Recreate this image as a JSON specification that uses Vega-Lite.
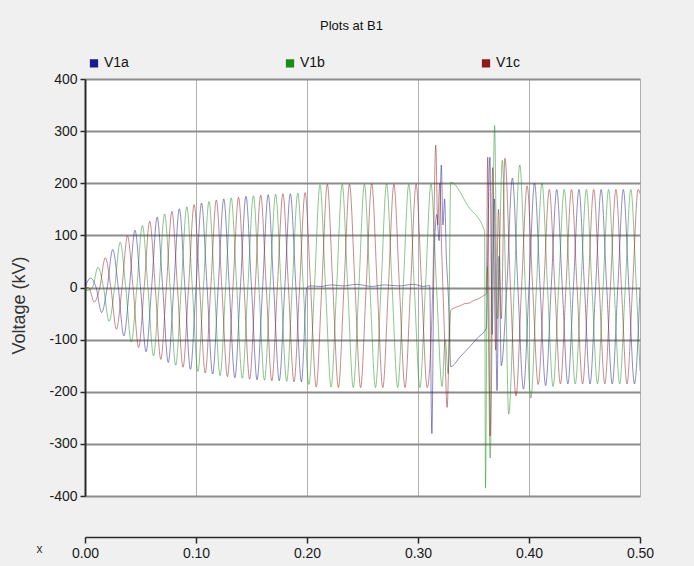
{
  "$schema": "https://vega.github.io/schema/vega-lite/v6.json",
  "width": 555,
  "height": 417,
  "autosize": {"type": "none"},
  "padding": {"left": 85, "top": 79, "right": 54, "bottom": 70},
  "background": "#f0f0f0",
  "title": {
    "text": "Plots at B1",
    "anchor": "middle",
    "frame": "group",
    "dx": -11,
    "offset": 23,
    "font": "Liberation Sans",
    "fontSize": 13,
    "fontWeight": "normal",
    "color": "#111111"
  },
  "config": {
    "view": {"fill": "white", "stroke": null},
    "locale": {"number": {"decimal": ".", "thousands": ",", "grouping": [3], "currency": ["$", ""], "minus": "-"}}
  },
  "datasets": {
    "va": [
      {"t":0,"v":0},{"t":0.005,"v":18},{"t":0.01,"v":0},{"t":0.015,"v":-48},{"t":0.02,"v":0},{"t":0.025,"v":73},{"t":0.03,"v":0},{"t":0.035,"v":-93},{"t":0.04,"v":0},{"t":0.045,"v":110},{"t":0.05,"v":0},{"t":0.055,"v":-123},{"t":0.06,"v":0},{"t":0.065,"v":135},{"t":0.07,"v":0},{"t":0.075,"v":-144},{"t":0.08,"v":0},{"t":0.085,"v":151},{"t":0.09,"v":0},{"t":0.095,"v":-157},{"t":0.1,"v":0},{"t":0.105,"v":162},{"t":0.11,"v":0},{"t":0.115,"v":-166},{"t":0.12,"v":0},{"t":0.125,"v":170},{"t":0.13,"v":0},{"t":0.135,"v":-173},{"t":0.14,"v":0},{"t":0.145,"v":175},{"t":0.15,"v":0},{"t":0.155,"v":-177},{"t":0.16,"v":0},{"t":0.165,"v":178},{"t":0.17,"v":0},{"t":0.175,"v":-179},{"t":0.18,"v":0},{"t":0.185,"v":180},{"t":0.19,"v":0},{"t":0.195,"v":-181},{"t":0.2,"v":0},
      {"t":0.203,"v":3},{"t":0.212,"v":2},{"t":0.222,"v":5},{"t":0.232,"v":3},{"t":0.245,"v":6},{"t":0.258,"v":2},{"t":0.27,"v":5},{"t":0.283,"v":3},{"t":0.296,"v":6},{"t":0.305,"v":2},{"t":0.3105,"v":4},
      {"t":0.3125,"v":-280},{"t":0.3145,"v":60},{"t":0.317,"v":140},{"t":0.319,"v":90},{"t":0.321,"v":235},{"t":0.3225,"v":120},{"t":0.324,"v":170},{"t":0.3255,"v":60},{"t":0.327,"v":0},{"t":0.328,"v":-50},{"t":0.3295,"v":-152},{"t":0.338,"v":-133},{"t":0.346,"v":-115},{"t":0.354,"v":-96},{"t":0.3615,"v":-78},
      {"t":0.3632,"v":120},{"t":0.3648,"v":250},{"t":0.3668,"v":-90},{"t":0.3688,"v":170},{"t":0.3712,"v":-198},{"t":0.373,"v":60},{"t":0.375,"v":-150},{"t":0.38,"v":0},{"t":0.385,"v":210},{"t":0.39,"v":0},{"t":0.395,"v":-195},{"t":0.4,"v":0},{"t":0.405,"v":200},{"t":0.41,"v":0},{"t":0.415,"v":-188},{"t":0.42,"v":0},{"t":0.425,"v":188},{"t":0.43,"v":0},{"t":0.435,"v":-185},{"t":0.44,"v":0},{"t":0.445,"v":188},{"t":0.45,"v":0},{"t":0.455,"v":-185},{"t":0.46,"v":0},{"t":0.465,"v":188},{"t":0.47,"v":0},{"t":0.475,"v":-185},{"t":0.48,"v":0},{"t":0.485,"v":188},{"t":0.49,"v":0},{"t":0.495,"v":-185},{"t":0.5,"v":0}
    ],
    "vb": [
      {"t":0,"v":0},{"t":0.0017,"v":-6},{"t":0.0067,"v":0},{"t":0.0117,"v":39},{"t":0.0167,"v":0},{"t":0.0217,"v":-65},{"t":0.0267,"v":0},{"t":0.0317,"v":87},{"t":0.0367,"v":0},{"t":0.0417,"v":-105},{"t":0.0467,"v":0},{"t":0.0517,"v":119},{"t":0.0567,"v":0},{"t":0.0617,"v":-131},{"t":0.0667,"v":0},{"t":0.0717,"v":141},{"t":0.0767,"v":0},{"t":0.0817,"v":-149},{"t":0.0867,"v":0},{"t":0.0917,"v":155},{"t":0.0967,"v":0},{"t":0.1017,"v":-161},{"t":0.1067,"v":0},{"t":0.1117,"v":165},{"t":0.1167,"v":0},{"t":0.1217,"v":-169},{"t":0.1267,"v":0},{"t":0.1317,"v":172},{"t":0.1367,"v":0},{"t":0.1417,"v":-174},{"t":0.1467,"v":0},{"t":0.1517,"v":176},{"t":0.1567,"v":0},{"t":0.1617,"v":-178},{"t":0.1667,"v":0},{"t":0.1717,"v":179},{"t":0.1767,"v":0},{"t":0.1817,"v":-180},{"t":0.1867,"v":0},{"t":0.1917,"v":181},{"t":0.1967,"v":0},
      {"t":0.2017,"v":-186},{"t":0.2067,"v":0},{"t":0.2117,"v":197},{"t":0.2167,"v":0},{"t":0.2217,"v":-191},{"t":0.2267,"v":0},{"t":0.2317,"v":198},{"t":0.2367,"v":0},{"t":0.2417,"v":-192},{"t":0.2467,"v":0},{"t":0.2517,"v":198},{"t":0.2567,"v":0},{"t":0.2617,"v":-192},{"t":0.2667,"v":0},{"t":0.2717,"v":199},{"t":0.2767,"v":0},{"t":0.2817,"v":-192},{"t":0.2867,"v":0},{"t":0.2917,"v":198},{"t":0.2967,"v":0},{"t":0.3017,"v":-192},{"t":0.3067,"v":0},{"t":0.3117,"v":198},{"t":0.3167,"v":0},{"t":0.3217,"v":-190},{"t":0.3245,"v":-100},{"t":0.3272,"v":-165},{"t":0.3295,"v":202},{"t":0.3455,"v":155},{"t":0.36,"v":108},
      {"t":0.3608,"v":-385},{"t":0.3625,"v":40},{"t":0.365,"v":-327},{"t":0.369,"v":311},{"t":0.3715,"v":-60},{"t":0.376,"v":244},{"t":0.379,"v":0},{"t":0.3817,"v":-243},{"t":0.3867,"v":0},{"t":0.3917,"v":235},{"t":0.3967,"v":0},{"t":0.4017,"v":-212},{"t":0.4067,"v":0},{"t":0.4117,"v":200},{"t":0.4167,"v":0},{"t":0.4217,"v":-190},{"t":0.4267,"v":0},{"t":0.4317,"v":188},{"t":0.4367,"v":0},{"t":0.4417,"v":-185},{"t":0.4467,"v":0},{"t":0.4517,"v":188},{"t":0.4567,"v":0},{"t":0.4617,"v":-185},{"t":0.4667,"v":0},{"t":0.4717,"v":188},{"t":0.4767,"v":0},{"t":0.4817,"v":-185},{"t":0.4867,"v":0},{"t":0.4917,"v":188},{"t":0.4967,"v":0},{"t":0.5,"v":-160}
    ],
    "vc": [
      {"t":0,"v":0},{"t":0.0033,"v":0},{"t":0.0083,"v":-28},{"t":0.0133,"v":0},{"t":0.0183,"v":57},{"t":0.0233,"v":0},{"t":0.0283,"v":-80},{"t":0.0333,"v":0},{"t":0.0383,"v":99},{"t":0.0433,"v":0},{"t":0.0483,"v":-115},{"t":0.0533,"v":0},{"t":0.0583,"v":127},{"t":0.0633,"v":0},{"t":0.0683,"v":-138},{"t":0.0733,"v":0},{"t":0.0783,"v":146},{"t":0.0833,"v":0},{"t":0.0883,"v":-153},{"t":0.0933,"v":0},{"t":0.0983,"v":159},{"t":0.1033,"v":0},{"t":0.1083,"v":-164},{"t":0.1133,"v":0},{"t":0.1183,"v":168},{"t":0.1233,"v":0},{"t":0.1283,"v":-171},{"t":0.1333,"v":0},{"t":0.1383,"v":173},{"t":0.1433,"v":0},{"t":0.1483,"v":-176},{"t":0.1533,"v":0},{"t":0.1583,"v":177},{"t":0.1633,"v":0},{"t":0.1683,"v":-179},{"t":0.1733,"v":0},{"t":0.1783,"v":180},{"t":0.1833,"v":0},{"t":0.1883,"v":-181},{"t":0.1933,"v":0},{"t":0.1983,"v":182},{"t":0.2033,"v":0},
      {"t":0.2083,"v":-191},{"t":0.2133,"v":0},{"t":0.2183,"v":198},{"t":0.2233,"v":0},{"t":0.2283,"v":-192},{"t":0.2333,"v":0},{"t":0.2383,"v":198},{"t":0.2433,"v":0},{"t":0.2483,"v":-192},{"t":0.2533,"v":0},{"t":0.2583,"v":199},{"t":0.2633,"v":0},{"t":0.2683,"v":-192},{"t":0.2733,"v":0},{"t":0.2783,"v":198},{"t":0.2833,"v":0},{"t":0.2883,"v":-192},{"t":0.2933,"v":0},{"t":0.2983,"v":198},{"t":0.3033,"v":0},{"t":0.3083,"v":-192},{"t":0.3133,"v":0},
      {"t":0.316,"v":273},{"t":0.3178,"v":120},{"t":0.3195,"v":200},{"t":0.3215,"v":60},{"t":0.324,"v":-100},{"t":0.3262,"v":-230},{"t":0.328,"v":-120},{"t":0.3295,"v":-44},{"t":0.334,"v":-38},{"t":0.338,"v":-35},{"t":0.342,"v":-31},{"t":0.346,"v":-30},{"t":0.35,"v":-25},{"t":0.354,"v":-22},{"t":0.358,"v":-17},{"t":0.3615,"v":-12},
      {"t":0.3628,"v":250},{"t":0.365,"v":-285},{"t":0.3672,"v":230},{"t":0.37,"v":-120},{"t":0.3725,"v":150},{"t":0.375,"v":-60},{"t":0.3783,"v":248},{"t":0.3833,"v":0},{"t":0.3883,"v":-208},{"t":0.3933,"v":0},{"t":0.3983,"v":195},{"t":0.4033,"v":0},{"t":0.4083,"v":-186},{"t":0.4133,"v":0},{"t":0.4183,"v":188},{"t":0.4233,"v":0},{"t":0.4283,"v":-185},{"t":0.4333,"v":0},{"t":0.4383,"v":188},{"t":0.4433,"v":0},{"t":0.4483,"v":-185},{"t":0.4533,"v":0},{"t":0.4583,"v":188},{"t":0.4633,"v":0},{"t":0.4683,"v":-185},{"t":0.4733,"v":0},{"t":0.4783,"v":188},{"t":0.4833,"v":0},{"t":0.4883,"v":-185},{"t":0.4933,"v":0},{"t":0.4983,"v":188},{"t":0.5,"v":180}
    ]
  },
  "encoding": {
    "x": {
      "field": "t",
      "type": "quantitative",
      "scale": {"domain": [0, 0.5], "nice": false, "zero": false},
      "axis": {
        "values": [0, 0.1, 0.2, 0.3, 0.4, 0.5],
        "format": ".2f",
        "offset": 41,
        "grid": true,
        "gridColor": "#b0b0b0",
        "gridWidth": 1,
        "domainColor": "#2a2a2a",
        "domainWidth": 1.5,
        "tickColor": "#2a2a2a",
        "tickSize": 6,
        "tickWidth": 1.5,
        "labelFont": "Liberation Sans",
        "labelFontSize": 14,
        "labelColor": "#1a1a1a",
        "labelPadding": 3,
        "labelFlush": false,
        "title": "x",
        "titleFont": "Liberation Sans",
        "titleFontSize": 12,
        "titleFontWeight": "normal",
        "titleColor": "#333333",
        "titleAngle": 0,
        "titleAlign": "center",
        "titleBaseline": "middle",
        "titleX": -46,
        "titleY": 11
      }
    },
    "y": {
      "field": "v",
      "type": "quantitative",
      "scale": {"domain": [-400, 400], "nice": false},
      "axis": {
        "values": [-400, -300, -200, -100, 0, 100, 200, 300, 400],
        "grid": true,
        "gridColor": "#8c8c8c",
        "gridWidth": 2,
        "domainColor": "#2a2a2a",
        "domainWidth": 2,
        "tickColor": "#2a2a2a",
        "tickSize": 5,
        "tickWidth": 1.5,
        "labelFont": "Liberation Sans",
        "labelFontSize": 14,
        "labelColor": "#1a1a1a",
        "labelPadding": 3,
        "labelFlush": false,
        "title": "Voltage (kV)",
        "titleFont": "Liberation Sans",
        "titleFontSize": 18,
        "titleFontWeight": "normal",
        "titleColor": "#333333",
        "titleAngle": -90,
        "titleAlign": "center",
        "titleBaseline": "middle",
        "titleX": -66,
        "titleY": 226
      }
    }
  },
  "layer": [
    {
      "data": {"name": "va"},
      "mark": {"type": "line", "interpolate": "monotone", "strokeWidth": 1, "strokeOpacity": 0.5, "clip": true},
      "encoding": {
        "color": {
          "datum": "V1a",
          "scale": {"domain": ["V1a", "V1b", "V1c"], "range": ["#1a1a8c", "#1a8c1a", "#8c1a1a"]},
          "legend": {
            "title": null,
            "orient": "none",
            "legendX": 2,
            "legendY": -23,
            "direction": "horizontal",
            "columns": 3,
            "columnPadding": 150,
            "symbolType": "square",
            "symbolSize": 18,
            "symbolStrokeWidth": 4,
            "symbolOpacity": 1,
            "labelFont": "Liberation Sans",
            "labelFontSize": 14,
            "labelColor": "#111111",
            "labelOffset": 3,
            "encode": {"symbols": {"update": {"strokeOpacity": {"value": 1}, "opacity": {"value": 1}}}}
          }
        }
      }
    },
    {
      "data": {"name": "vb"},
      "mark": {"type": "line", "interpolate": "monotone", "strokeWidth": 1, "strokeOpacity": 0.5, "clip": true},
      "encoding": {"color": {"datum": "V1b"}}
    },
    {
      "data": {"name": "vc"},
      "mark": {"type": "line", "interpolate": "monotone", "strokeWidth": 1, "strokeOpacity": 0.5, "clip": true},
      "encoding": {"color": {"datum": "V1c"}}
    }
  ]
}
